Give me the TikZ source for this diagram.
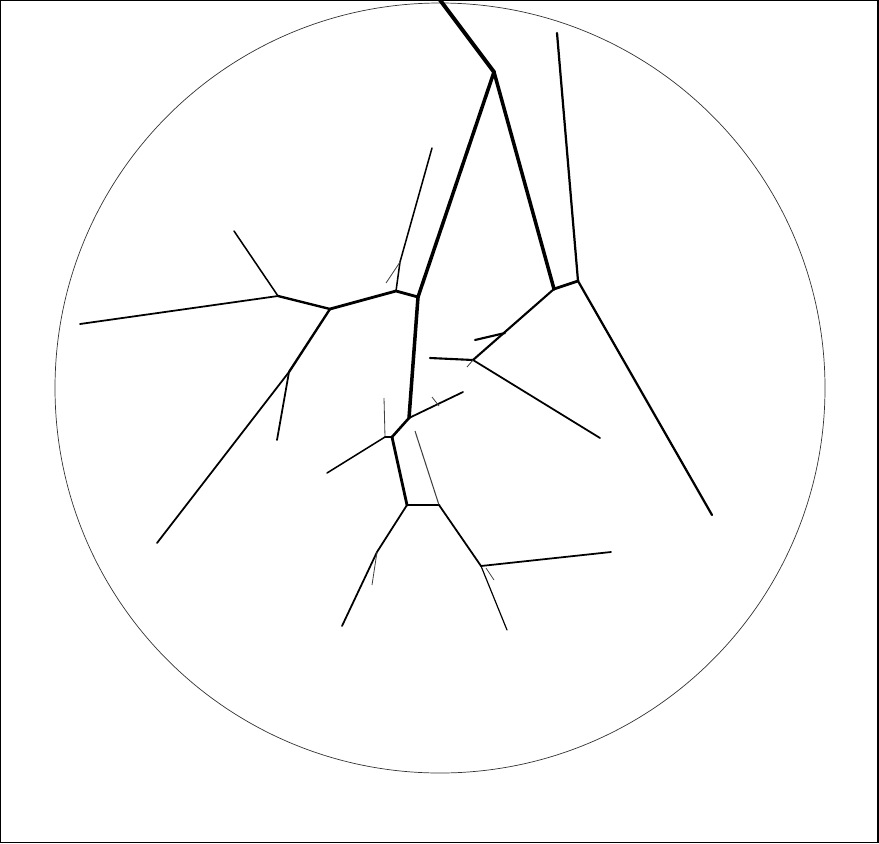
\documentclass[tikz,border=0pt]{standalone}
\usepackage{tikz}

\tikzset{
  trunk/.style={line width=3pt, line cap=round, line join=round},
  bough/.style={line width=2.4pt, line cap=round, line join=round},
  limb/.style={line width=1.8pt, line cap=round, line join=round},
  twig/.style={line width=1.3pt, line cap=round},
  sprig/.style={line width=0.7pt, color=black!75}
}

\begin{document}
\begin{tikzpicture}[x=0.03cm, y=-0.03cm]
  \useasboundingbox (0,0) rectangle (879,843);
  \draw[line width=1.2pt] (0.7,0.7) rectangle (878,842.3);
  \draw[line width=0.6pt, color=black!80] (440,388) circle (385);

  % Junctions
  \coordinate (root)  at (440,0);
  \coordinate (fork)  at (494,72);
  \coordinate (west)  at (418,297);
  \coordinate (east)  at (554,289);
  \coordinate (eastb) at (578,281);
  \coordinate (eastc) at (473,360);
  \coordinate (eastk) at (505,333);
  \coordinate (knee)  at (396,291);
  \coordinate (kneeb) at (400,262);
  \coordinate (left)  at (330,309);
  \coordinate (lefta) at (278,296);
  \coordinate (leftb) at (289,372);
  \coordinate (mid)   at (409,418);
  \coordinate (midk)  at (439,406);
  \coordinate (low)   at (392,437);
  \coordinate (lowb)  at (385,437);
  \coordinate (base)  at (407,505);
  \coordinate (baseb) at (439,505);
  \coordinate (basek) at (377,552);
  \coordinate (foot)  at (481,566);
  \coordinate (footk) at (486,568);

  % Tips
  \coordinate (tipN)  at (557,33);
  \coordinate (tipSE) at (712,515);
  \coordinate (tipC)  at (430,358);
  \coordinate (tipCE) at (600,438);
  \coordinate (tipCk) at (475,340);
  \coordinate (tipCs) at (467,367);
  \coordinate (tipK)  at (432,148);
  \coordinate (tipKk) at (386,283);
  \coordinate (tipW)  at (80,324);
  \coordinate (tipNW) at (234,231);
  \coordinate (tipSW) at (157,543);
  \coordinate (tipLs) at (277,440);
  \coordinate (tipM)  at (463,392);
  \coordinate (tipMk) at (432,397);
  \coordinate (tipLu) at (384,398);
  \coordinate (tipLd) at (327,473);
  \coordinate (tipBu) at (415,431);
  \coordinate (tipS)  at (342,626);
  \coordinate (tipSk) at (372,585);
  \coordinate (tipE)  at (611,552);
  \coordinate (tipF)  at (507,630);
  \coordinate (tipFk) at (494,580);

  % Main stem
  \draw[trunk, line width=3.4pt] (root) -- (fork);
  \draw[trunk] (fork) -- (west);
  \draw[trunk] (fork) -- (east);
  \draw[trunk] (west) -- (mid);

  % East side
  \draw[bough] (east) -- (eastb);
  \draw[bough, line width=1.9pt] (eastb) -- (tipN);
  \draw[bough, line width=1.9pt] (eastb) -- (tipSE);
  \draw[limb] (east) -- (eastc);
  \draw[limb] (eastc) -- (tipC);
  \draw[twig, line width=1.5pt] (eastc) -- (tipCE);
  \draw[sprig] (eastc) -- (tipCs);
  \draw[limb] (eastk) -- (tipCk);

  % West side
  \draw[bough] (west) -- (knee) -- (left);
  \draw[twig] (knee) -- (kneeb) -- (tipK);
  \draw[sprig] (kneeb) -- (tipKk);
  \draw[limb, line width=2pt] (left) -- (lefta);
  \draw[twig, line width=1.5pt] (lefta) -- (tipW);
  \draw[twig] (lefta) -- (tipNW);
  \draw[limb, line width=2pt] (left) -- (leftb);
  \draw[twig, line width=1.5pt] (leftb) -- (tipSW);
  \draw[twig, line width=1.5pt] (leftb) -- (tipLs);

  % Lower part
  \draw[twig, line width=1.5pt] (mid) -- (tipM);
  \draw[sprig] (midk) -- (tipMk);
  \draw[bough, line width=2.2pt] (mid) -- (low);
  \draw[twig] (low) -- (lowb);
  \draw[sprig] (lowb) -- (tipLu);
  \draw[twig] (lowb) -- (tipLd);
  \draw[bough] (low) -- (base);
  \draw[bough] (base) -- (baseb);
  \draw[sprig, line width=0.9pt] (baseb) -- (tipBu);
  \draw[twig, line width=1.5pt] (base) -- (basek) -- (tipS);
  \draw[sprig] (basek) -- (tipSk);
  \draw[twig, line width=1.5pt] (baseb) -- (foot);
  \draw[twig, line width=1.5pt] (foot) -- (tipE);
  \draw[twig, line width=1pt] (foot) -- (tipF);
  \draw[sprig] (footk) -- (tipFk);
\end{tikzpicture}
\end{document}
